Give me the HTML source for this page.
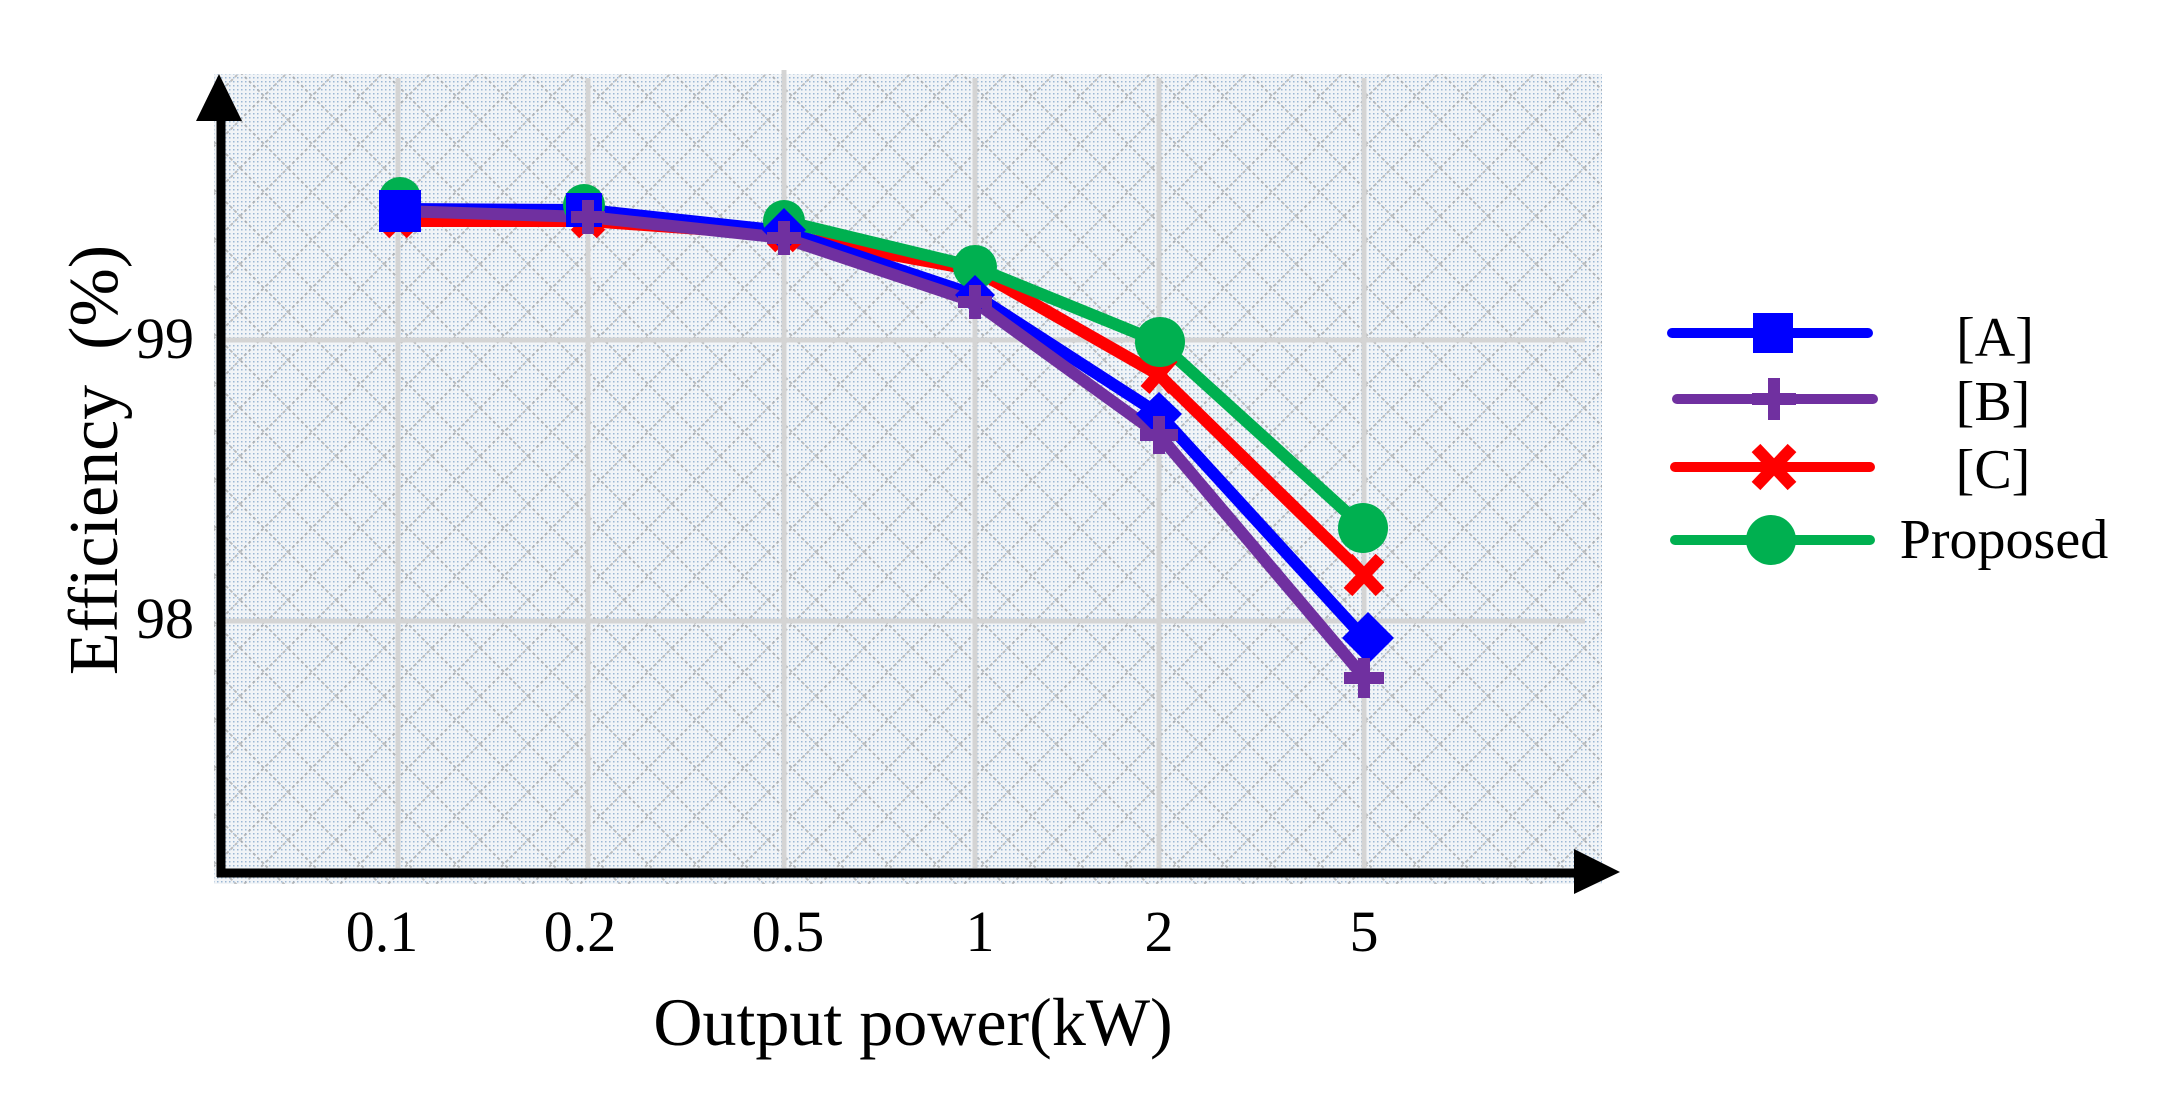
<!DOCTYPE html>
<html><head><meta charset="utf-8"><style>
html,body{margin:0;padding:0;background:#fff;}
svg{display:block;}
text{font-family:"Liberation Serif",serif;fill:#000;}
</style></head><body>
<svg width="2162" height="1094" viewBox="0 0 2162 1094" xmlns="http://www.w3.org/2000/svg">
<defs>
<pattern id="dots" width="4" height="4" patternUnits="userSpaceOnUse">
<rect x="1" y="1" width="1.5" height="1.5" fill="#7fa3c8"/>
</pattern>
<pattern id="hatch" width="48" height="48" patternUnits="userSpaceOnUse">
<path d="M0 24 L24 0 L48 24 L24 48 Z" fill="none" stroke="#9a9a9a" stroke-width="2" stroke-dasharray="3 3" opacity="0.6"/>
</pattern>
</defs>
<rect x="214" y="74" width="1388" height="810" fill="#f1f4f7"/>
<rect x="214" y="74" width="1388" height="810" fill="url(#dots)" opacity="0.75"/>
<rect x="214" y="74" width="1388" height="810" fill="url(#hatch)"/>
<g stroke="#d4d4d4" stroke-width="5">
<line x1="398" y1="78" x2="398" y2="868"/>
<line x1="588" y1="78" x2="588" y2="868"/>
<line x1="784" y1="70" x2="784" y2="868"/>
<line x1="975" y1="78" x2="975" y2="868"/>
<line x1="1159" y1="78" x2="1159" y2="868"/>
<line x1="1364" y1="78" x2="1364" y2="868"/>
<line x1="221" y1="340" x2="1585" y2="340"/>
<line x1="221" y1="621" x2="1585" y2="621"/>
</g>
<line x1="221" y1="110" x2="221" y2="877" stroke="#000" stroke-width="9"/>
<polygon points="196,121 242,121 219,74" fill="#000"/>
<line x1="217" y1="873" x2="1580" y2="873" stroke="#000" stroke-width="9"/>
<polygon points="1574,849 1574,894 1620,872" fill="#000"/>
<g fill="none" stroke-width="12" stroke-linejoin="round" stroke-linecap="round">
<polyline stroke="#ff0000" points="398,221 588,221 784,235 975,270 1159,375 1364,575"/>
<polyline stroke="#0000ff" points="398,209 588,210 784,231 975,295 1159,414 1364,638"/>
<polyline stroke="#7030a0" points="398,211 588,217 784,238 975,302 1159,435 1364,677"/>
<polyline stroke="#00b050" points="784,221 975,267 1159,342 1364,528"/>
</g>
<g stroke="#ff0000" stroke-width="12">
<path d="M385 208 L411 234 M411 208 L385 234"/>
<path d="M575 208 L601 234 M601 208 L575 234"/>
<path d="M771 222 L797 248 M797 222 L771 248"/>
<path d="M1145 358 L1173 390 M1173 358 L1145 390"/>
<path d="M1348 558 L1380 592 M1380 558 L1348 592"/>
</g>
<g fill="#00b050">
<circle cx="400" cy="198" r="21"/><circle cx="584" cy="205" r="21"/><circle cx="784" cy="221" r="21"/>
<circle cx="975" cy="267" r="22"/><circle cx="1160" cy="342" r="25"/><circle cx="1363" cy="528" r="25"/>
</g>
<g fill="#0000ff">
<rect x="379" y="190" width="42" height="42"/>
<rect x="566" y="193" width="36" height="34"/>
<polygon points="784,208 806,230 784,252 762,230"/>
<polygon points="975,275 995,295 975,315 955,295"/>
<polygon points="1159,392 1182,414 1159,437 1136,414"/>
<polygon points="1368,612 1394,638 1368,664 1342,638"/>
</g>
<g stroke="#7030a0" stroke-width="12">
<path d="M588 200 V234 M571 217 H605"/>
<path d="M784 221 V255 M767 238 H801"/>
<path d="M975 285 V319 M958 302 H992"/>
<path d="M1159 416 V454 M1140 435 H1178"/>
<path d="M1364 658 V698 M1344 678 H1384"/>
</g>
<g font-size="58" text-anchor="middle">
<text x="382" y="951">0.1</text>
<text x="580" y="951">0.2</text>
<text x="788" y="951">0.5</text>
<text x="980" y="951">1</text>
<text x="1159" y="951">2</text>
<text x="1364" y="951">5</text>
<text x="165" y="358">99</text>
<text x="165" y="638">98</text>
</g>
<text x="913" y="1045" font-size="68" text-anchor="middle">Output power(kW)</text>
<text transform="translate(117,460) rotate(-90)" font-size="70" text-anchor="middle" xml:space="preserve">Efficiency  (%)</text>
<g stroke-width="10" stroke-linecap="round">
<line x1="1672" y1="333" x2="1868" y2="333" stroke="#0000ff"/>
<line x1="1677" y1="399" x2="1873" y2="399" stroke="#7030a0"/>
<line x1="1675" y1="467" x2="1870" y2="467" stroke="#ff0000"/>
<line x1="1675" y1="540" x2="1870" y2="540" stroke="#00b050"/>
</g>
<rect x="1753" y="313" width="40" height="40" fill="#0000ff"/>
<path d="M1774 378 V420 M1752 399 H1796" stroke="#7030a0" stroke-width="12"/>
<path d="M1756 448 L1792 486 M1792 448 L1756 486" stroke="#ff0000" stroke-width="12"/>
<circle cx="1771" cy="540" r="25" fill="#00b050"/>
<g font-size="56" text-anchor="middle">
<text x="1995" y="356">[A]</text>
<text x="1993" y="420">[B]</text>
<text x="1993" y="488">[C]</text>
<text x="2004" y="558">Proposed</text>
</g>
</svg>
</body></html>
